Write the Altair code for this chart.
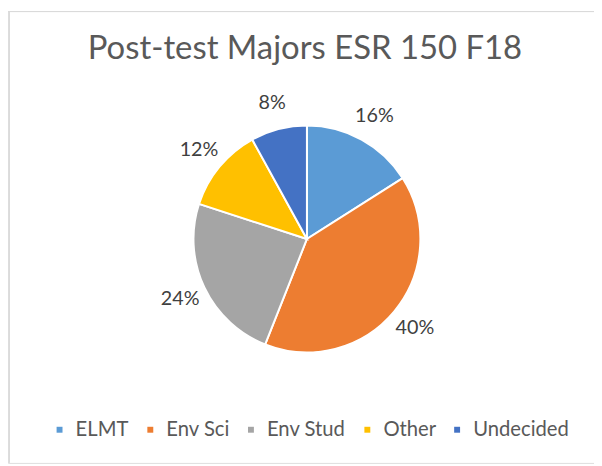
import altair as alt
import pandas as pd

categories = ["ELMT", "Env Sci", "Env Stud", "Other", "Undecided"]
percents = [16, 40, 24, 12, 8]
colors = ["#5B9BD5", "#ED7D31", "#A5A5A5", "#FFC000", "#4472C4"]
title_text = "Post-test Majors ESR 150 F18"

df = pd.DataFrame({"major": categories, "pct": percents, "order": list(range(len(categories)))})
df["label"] = df["pct"].astype(str) + "%"

W, H = 594, 458
CX, CY = 303, 231

base = alt.Chart(df).encode(
    theta=alt.Theta("pct:Q", stack=True),
    order=alt.Order("order:Q"),
)

pie = base.mark_arc(outerRadius=115, stroke="white", strokeWidth=2).encode(
    color=alt.Color(
        "major:N",
        sort=categories,
        scale=alt.Scale(domain=categories, range=colors),
        legend=alt.Legend(
            title=None,
            orient="none",
            legendX=42,
            legendY=414,
            direction="horizontal",
            symbolType="square",
            symbolSize=36,
            symbolStrokeWidth=0,
            labelFont="Lato",
            labelFontSize=20.5,
            labelColor="#595959",
            labelOffset=6,
            columnPadding=11,
        ),
    ),
    x=alt.value(CX),
    y=alt.value(CY),
)

labels = base.mark_text(radius=142, fontSize=20, font="Lato", color="#404040").encode(
    text="label:N",
    x=alt.value(CX),
    y=alt.value(CY),
)

frame_src = alt.Data(values=[{"k": 0}])
top_line = alt.Chart(frame_src).mark_rule(color="#D9D9D9", strokeWidth=1).encode(
    x=alt.value(0), x2=alt.value(W), y=alt.value(0.5)
)
left_line = alt.Chart(frame_src).mark_rule(color="#D9D9D9", strokeWidth=1).encode(
    x=alt.value(1.5), y=alt.value(0), y2=alt.value(H)
)

chart = (
    alt.layer(top_line, left_line, pie, labels)
    .properties(
        width=W,
        height=H,
        autosize=alt.AutoSizeParams(type="none"),
        padding=0,
        title=alt.TitleParams(
            title_text,
            font="Lato",
            fontSize=33.3,
            fontWeight="normal",
            color="#595959",
            anchor="middle",
            dx=4,
            dy=60,
        ),
    )
    .configure_view(strokeWidth=0)
    .configure(background="white")
)

chart.save("out.html", embed_options={"renderer": "svg", "actions": False})
